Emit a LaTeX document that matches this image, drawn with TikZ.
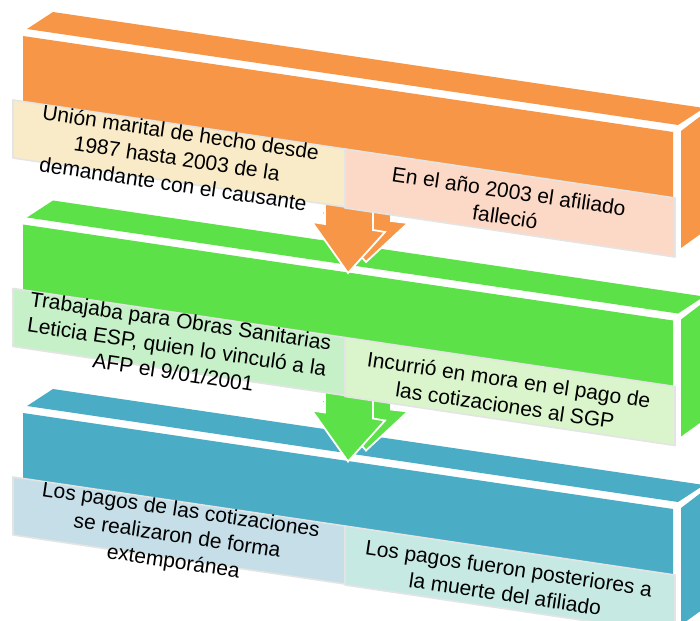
\documentclass[tikz,border=0pt]{standalone}
\usepackage{fontspec}
\setmainfont{Liberation Sans}
\definecolor{cOr}{HTML}{F79646}
\definecolor{cGr}{HTML}{5DE148}
\definecolor{cBl}{HTML}{4BACC6}
\definecolor{bOrL}{HTML}{F9EBC7}
\definecolor{bOrR}{HTML}{FCD9C6}
\definecolor{bGrL}{HTML}{C6F1C8}
\definecolor{bGrR}{HTML}{DAF5CB}
\definecolor{bBlL}{HTML}{C5DEE7}
\definecolor{bBlR}{HTML}{C6EAE3}
\definecolor{boxedge}{HTML}{E4E4E4}
\begin{document}
\begin{tikzpicture}[x=1pt,y=-1pt,
  tbox/.style={draw=boxedge,line width=1.6pt,line join=round},
  arrowface/.style={draw=white,line width=1.8pt,line join=miter},
  txt/.style={font=\fontsize{21}{26}\selectfont,align=center,inner sep=0pt,rotate=-8.4,text=black}]
\useasboundingbox (0,0) rectangle (700,620);
\fill[white] (0,0) rectangle (700,620);
\clip (0,0) rectangle (700,620);
% blocks
\foreach \dy/\col in {0/cOr,188.5/cGr,377/cBl}{
  \begin{scope}[yshift=-\dy pt]
    \fill[\col] (53,12) -- (27,29) -- (678,125) -- (704,108) -- cycle;
    \fill[\col] (23,36) -- (673,132) -- (673,245) -- (23,149) -- cycle;
    \fill[\col] (681,131) -- (706,112) -- (706,230) -- (681,248) -- cycle;
  \end{scope}
}
% arrows
\foreach \dy/\col in {0/cOr,188.5/cGr}{
  \begin{scope}[yshift=-\dy pt]
    \filldraw[arrowface,fill=\col] (333,190) -- (333,213) -- (320,211) -- (366,262) -- (408,223) -- (391,221) -- (391,190) -- cycle;
    \filldraw[arrowface,fill=\col] (325,190) -- (325,224) -- (312,222) -- (348,273) -- (385,232) -- (373,230) -- (373,190) -- cycle;
  \end{scope}
}
% text boxes
\foreach \dy/\cl/\cr in {0/bOrL/bOrR,188.5/bGrL/bGrR,377/bBlL/bBlR}{
  \begin{scope}[yshift=-\dy pt]
    \filldraw[tbox,fill=\cl] (13,100) -- (345,149) -- (345,207) -- (13,158) -- cycle;
    \filldraw[tbox,fill=\cr] (345,149) -- (675,198) -- (675,257) -- (345,208) -- cycle;
  \end{scope}
}
% texts
\node[txt] (t1) at (177,158) {Unión marital de hecho desde\\1987 hasta 2003 de la\\demandante con el causante};
\node[txt] (t2) at (507,204) {En el año 2003 el afiliado\\falleció};
\node[txt] (t3) at (177,346.5) {Trabajaba para Obras Sanitarias\\Leticia ESP, quien lo vinculó a la\\AFP el 9/01/2001};
\node[txt] (t4) at (507,392.5) {Incurrió en mora en el pago de\\las cotizaciones al SGP};
\node[txt] (t5) at (177,537) {Los pagos de las cotizaciones\\se realizaron de forma\\extemporánea};
\node[txt] (t6) at (507,581) {Los pagos fueron posteriores a\\la muerte del afiliado};
\end{tikzpicture}
\end{document}
